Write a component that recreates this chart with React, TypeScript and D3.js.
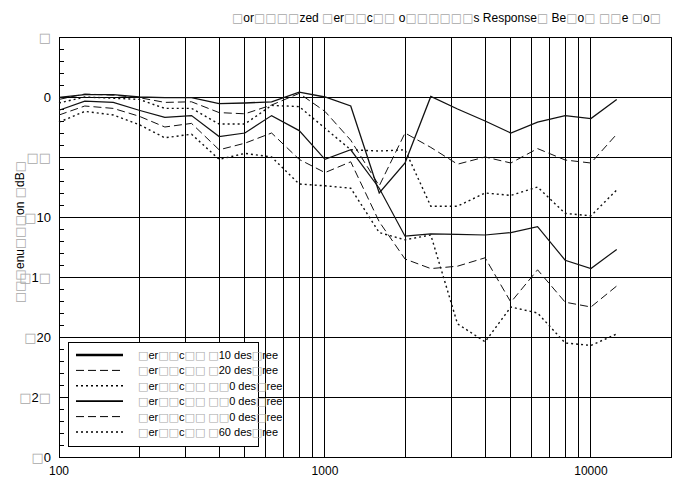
import * as d3 from 'd3';

// third-octave centre frequencies (Hz)
const freqs = [100, 125, 160, 200, 250, 315, 400, 500, 630, 800, 1000, 1250, 1600, 2000, 2500, 3150, 4000, 5000, 6300, 8000, 10000, 12500];

// attenuation in dB, one list per off-axis angle
const vert10 = [-0.03, 0.2, 0.2, 0.0, -0.05, -0.05, -0.55, -0.5, -0.4, 0.4, 0.0, -0.75, -8.0, -5.5, 0.05, -1.0, -2.0, -3.0, -2.1, -1.55, -1.8, -0.2];
const vert20 = [-0.2, 0.25, 0.15, -0.05, -0.45, -0.4, -1.3, -1.4, -0.67, 0.3, -1.2, -3.6, -7.4, -3.0, -4.2, -5.6, -5.0, -5.5, -4.3, -5.25, -5.5, -3.1];
const vert30 = [-0.5, 0.0, -0.1, -0.2, -0.95, -0.95, -2.25, -2.25, -0.7, -0.8, -2.6, -4.4, -4.5, -4.4, -9.1, -9.1, -8.0, -8.2, -7.5, -9.7, -9.9, -7.75];
const vert40 = [-1.1, -0.35, -0.45, -1.1, -1.7, -1.55, -3.3, -3.0, -1.55, -2.8, -5.2, -4.4, -7.6, -11.6, -11.4, -11.45, -11.5, -11.3, -10.8, -13.6, -14.3, -12.7];
const vert50 = [-1.5, -0.75, -0.95, -1.6, -2.5, -2.2, -4.4, -3.85, -3.0, -5.2, -6.3, -5.4, -10.4, -13.5, -14.3, -14.1, -13.4, -17.1, -14.4, -17.1, -17.5, -15.75];
const vert60 = [-2.1, -1.2, -1.5, -2.3, -3.4, -3.1, -5.2, -4.7, -5.0, -7.25, -7.4, -7.6, -11.3, -11.9, -11.5, -18.9, -20.4, -17.5, -18.0, -20.5, -20.7, -19.75];

const legendLabels = [
  '□er□□c□□ □10 des□ree',
  '□er□□c□□ □20 des□ree',
  '□er□□c□□ □□0 des□ree',
  '□er□□c□□ □□0 des□ree',
  '□er□□c□□ □□0 des□ree',
  '□er□□c□□ □60 des□ree',
];

const yTickLabels = ['□0', '□2□', '□20', '□1□', '□10', '□□', '0', '□'];
const xTickLabels = ['100', '1000', '10000'];

const title = '□or□□□□zed □er□□c□□ o□□□□□□s Response□ Be□o□ □□e □o□';
const yTitle = '□□□enu□□□on □dB□';

const FONT = "'Liberation Sans', Arial, sans-serif";

const series = [
  { values: vert10, dash: null, width: 1.3, legendWidth: 2.4 },
  { values: vert20, dash: '8 4', width: 1, legendWidth: 1 },
  { values: vert30, dash: '2 3', width: 1.4, legendWidth: 1.6 },
  { values: vert40, dash: null, width: 1.2, legendWidth: 1.8 },
  { values: vert50, dash: '8 4', width: 1, legendWidth: 1 },
  { values: vert60, dash: '2 3', width: 1.4, legendWidth: 1.6 },
];

// renders missing-glyph boxes in grey, like the reference
function Tofu({ text, ...props }: { text: string; [key: string]: any }) {
  const parts = text.match(/□+|[^□]+/g) ?? [];
  return (
    <text {...props}>
      {parts.map((part, i) =>
        part[0] === '□' ? (
          <tspan key={i} fill="#a8a8a8" fontFamily="'DejaVu Sans', sans-serif">
            {part}
          </tspan>
        ) : (
          <tspan key={i}>{part}</tspan>
        )
      )}
    </text>
  );
}

export default function App() {
  const width = 680;
  const height = 485;
  const margin = { top: 37, right: 9, bottom: 28, left: 59 };

  const x = d3
    .scaleLog()
    .domain([100, 20000])
    .range([margin.left, width - margin.right]);
  const y = d3
    .scaleLinear()
    .domain([-30, 5])
    .range([height - margin.bottom, margin.top]);

  const gridX = x.ticks().filter((t) => t > 100 && t < 20000);
  const majorY = y.ticks(7);
  const minorY = y.ticks(35);

  const line = d3
    .line<number>()
    .x((_, i) => x(freqs[i]))
    .y((v) => y(v));

  const [x0, x1] = x.range();
  const [y0, y1] = y.range();

  const legendX = 68;
  const legendY = 342;
  const rowH = 15.4;

  return (
    <svg
      width={width}
      height={height}
      style={{ position: 'absolute', left: 0, top: 0, background: '#fff' }}
      fontFamily={FONT}
    >
      <Tofu text={title} x={232} y={22} fontSize={12} fill="#000" />

      {/* grid */}
      <g stroke="#000" strokeWidth={1} shapeRendering="crispEdges">
        {gridX.map((t) => (
          <line key={t} x1={x(t)} x2={x(t)} y1={y1} y2={y0} />
        ))}
        {majorY
          .filter((t) => t > -30 && t < 5)
          .map((t) => (
            <line key={t} x1={x0} x2={x1} y1={y(t)} y2={y(t)} />
          ))}
        {minorY.map((t) => (
          <line key={t} x1={x0} x2={x0 + 5} y1={y(t)} y2={y(t)} />
        ))}
        <rect x={x0} y={y1} width={x1 - x0} height={y0 - y1} fill="none" />
      </g>

      {/* curves */}
      <g fill="none" stroke="#111">
        {series.map((s, i) => (
          <path
            key={i}
            d={line(s.values) ?? ''}
            strokeWidth={s.width}
            strokeDasharray={s.dash ?? undefined}
          />
        ))}
      </g>

      {/* y tick labels */}
      {majorY.map((t, i) => (
        <Tofu
          key={t}
          text={yTickLabels[i]}
          x={51}
          y={y(t) + 5}
          fontSize={13}
          textAnchor="end"
          fill="#000"
        />
      ))}

      {/* x tick labels */}
      {xTickLabels.map((label) => (
        <text key={label} x={x(+label)} y={475} fontSize={12} textAnchor="middle" fill="#000">
          {label}
        </text>
      ))}

      <Tofu
        text={yTitle}
        transform="translate(24,232) rotate(-90)"
        fontSize={12}
        textAnchor="middle"
        fill="#000"
      />

      {/* legend */}
      <rect
        x={legendX}
        y={legendY}
        width={190}
        height={104}
        fill="#fff"
        stroke="#000"
        strokeWidth={1}
        shapeRendering="crispEdges"
      />
      {series.map((s, i) => {
        const ry = legendY + 13 + i * rowH;
        return (
          <g key={i}>
            <line
              x1={legendX + 8}
              x2={legendX + 55}
              y1={ry}
              y2={ry}
              stroke="#000"
              strokeWidth={s.legendWidth}
              strokeDasharray={s.dash ?? undefined}
            />
            <Tofu text={legendLabels[i]} x={legendX + 70} y={ry + 4} fontSize={11} fill="#000" />
          </g>
        );
      })}
    </svg>
  );
}
